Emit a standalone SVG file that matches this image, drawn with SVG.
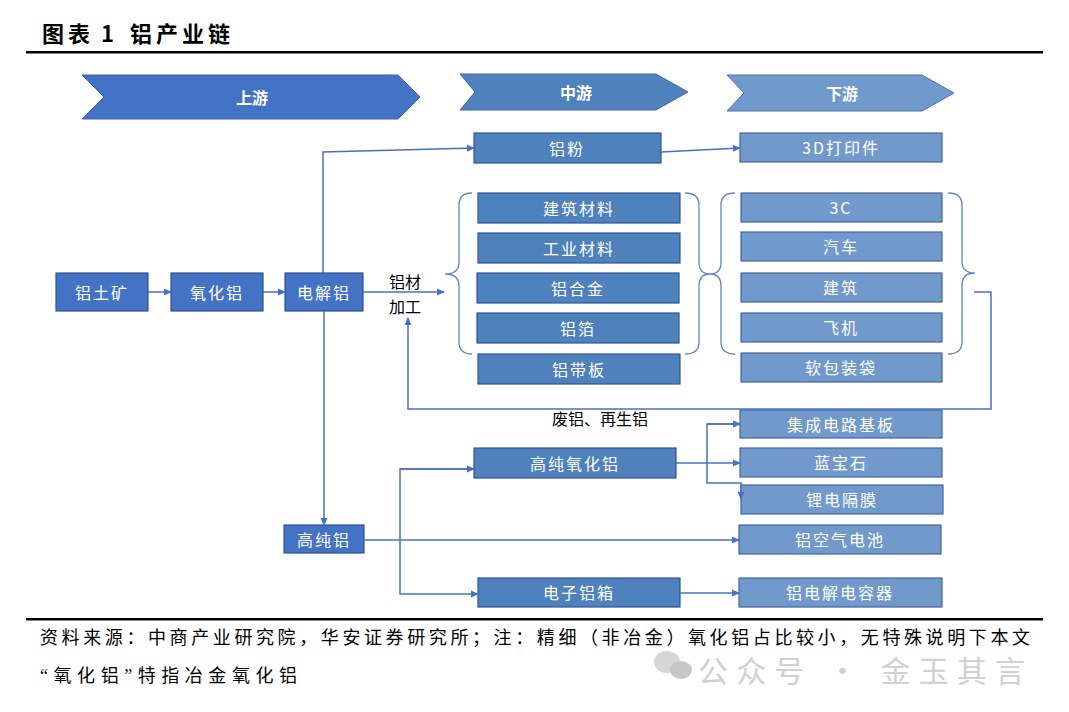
<svg xmlns="http://www.w3.org/2000/svg" width="1069" height="712" viewBox="0 0 1069 712">
<defs>
<marker id="ah" markerWidth="8" markerHeight="8" refX="7" refY="4" orient="auto" markerUnits="userSpaceOnUse">
<path d="M0,0.5 L8,4 L0,7.5 Z" fill="#4472C4"/>
</marker>
</defs>
<style>
.title{font-family:"Noto Sans CJK SC","Liberation Sans",sans-serif;font-weight:bold;font-size:22px;fill:#000}
.up{fill:#4472C4;stroke:#2F528F;stroke-width:1.2}
.mid{fill:#4F81BD;stroke:#2F5597;stroke-width:1.2}
.down{fill:#7199CC;stroke:#41679E;stroke-width:1.2}
.chev1{fill:#4472C4;stroke:#3A64AE;stroke-width:1}
.chev2{fill:#4F81BD;stroke:#3D6BA5;stroke-width:1}
.chev3{fill:#7099CC;stroke:#4A72A8;stroke-width:1}
.nt{font-family:"Noto Sans CJK SC","Liberation Sans",sans-serif;font-size:16px;fill:#fff;text-anchor:middle;dominant-baseline:central;letter-spacing:2px}
.ct{font-family:"Noto Sans CJK SC","Liberation Sans",sans-serif;font-size:16px;font-weight:bold;fill:#fff;text-anchor:middle;dominant-baseline:central}
.lbl{font-family:"Noto Sans CJK SC","Liberation Sans",sans-serif;font-size:16px;fill:#000;text-anchor:middle;dominant-baseline:central}
.cn{fill:none;stroke:#4472C4;stroke-width:1.5}
.br{fill:none;stroke:#5B86C8;stroke-width:1.3}
.foot{font-family:"Liberation Serif","Noto Sans CJK SC",serif;font-size:18px;fill:#000}
.wm{font-family:"Noto Sans CJK SC","Liberation Sans",sans-serif;font-size:30px;fill:#c8c8c8}
</style>
<rect x="0" y="0" width="1069" height="712" fill="#fff"/>
<text class="title" x="42" y="42"><tspan x="42" textLength="48" lengthAdjust="spacing">图表</tspan><tspan x="101">1</tspan><tspan x="130" textLength="100" lengthAdjust="spacing">铝产业链</tspan></text>
<rect x="26" y="51" width="1017" height="2.5" fill="#000"/>

<g id="chevron-up"><polygon class="chev1" points="82,75 398,75 420,97 398,119 82,119 104,97"/><text class="ct" x="252" y="97">上游</text></g>
<g id="chevron-mid"><polygon class="chev2" points="460,74 656,74 688,92 656,110 460,110 475,92"/><text class="ct" x="576" y="92">中游</text></g>
<g id="chevron-down"><polygon class="chev3" points="727,75 922,75 954,93 922,111 727,111 744,93"/><text class="ct" x="842" y="93">下游</text></g>

<g id="n-bauxite"><rect class="up" x="56" y="273" width="92" height="38"/><text class="nt" x="102" y="292">铝土矿</text></g>
<g id="n-alumina"><rect class="up" x="171" y="273" width="92" height="38"/><text class="nt" x="217" y="292">氧化铝</text></g>
<g id="n-electro"><rect class="up" x="285" y="273" width="78" height="38"/><text class="nt" x="324" y="292">电解铝</text></g>
<g id="n-hpal"><rect class="up" x="284" y="525" width="80" height="28"/><text class="nt" x="324" y="539">高纯铝</text></g>

<g id="n-powder"><rect class="mid" x="474" y="133" width="187" height="30"/><text class="nt" x="567" y="148">铝粉</text></g>
<g id="n-build-mat"><rect class="mid" x="478" y="193" width="202" height="30"/><text class="nt" x="579" y="208">建筑材料</text></g>
<g id="n-ind-mat"><rect class="mid" x="478" y="233" width="202" height="30"/><text class="nt" x="579" y="248">工业材料</text></g>
<g id="n-alloy"><rect class="mid" x="477" y="273" width="202" height="30"/><text class="nt" x="578" y="288">铝合金</text></g>
<g id="n-foil"><rect class="mid" x="477" y="313" width="202" height="30"/><text class="nt" x="578" y="328">铝箔</text></g>
<g id="n-strip"><rect class="mid" x="478" y="354" width="202" height="30"/><text class="nt" x="579" y="369">铝带板</text></g>
<g id="n-hpa"><rect class="mid" x="474" y="448" width="202" height="30"/><text class="nt" x="575" y="463">高纯氧化铝</text></g>
<g id="n-efoil"><rect class="mid" x="478" y="578" width="202" height="29"/><text class="nt" x="579" y="592">电子铝箱</text></g>

<g id="n-3d"><rect class="down" x="740" y="133" width="202" height="29"/><text class="nt" x="841" y="147">3D打印件</text></g>
<g id="n-3c"><rect class="down" x="741" y="193" width="201" height="29"/><text class="nt" x="841" y="207">3C</text></g>
<g id="n-car"><rect class="down" x="741" y="232" width="201" height="29"/><text class="nt" x="841" y="246">汽车</text></g>
<g id="n-building"><rect class="down" x="741" y="273" width="201" height="29"/><text class="nt" x="841" y="287">建筑</text></g>
<g id="n-plane"><rect class="down" x="741" y="313" width="201" height="29"/><text class="nt" x="841" y="327">飞机</text></g>
<g id="n-pack"><rect class="down" x="741" y="353" width="201" height="29"/><text class="nt" x="841" y="367">软包装袋</text></g>
<g id="n-ic"><rect class="down" x="740" y="410" width="202" height="28"/><text class="nt" x="841" y="424">集成电路基板</text></g>
<g id="n-sapphire"><rect class="down" x="740" y="448" width="202" height="29"/><text class="nt" x="841" y="462">蓝宝石</text></g>
<g id="n-separator"><rect class="down" x="741" y="485" width="202" height="29"/><text class="nt" x="842" y="499">锂电隔膜</text></g>
<g id="n-airbat"><rect class="down" x="739" y="525" width="202" height="29"/><text class="nt" x="840" y="539">铝空气电池</text></g>
<g id="n-cap"><rect class="down" x="739" y="578" width="203" height="29"/><text class="nt" x="840" y="592">铝电解电容器</text></g>

<g id="labels">
<text class="lbl" x="405" y="281">铝材</text>
<text class="lbl" x="405" y="306">加工</text>
<text class="lbl" x="600" y="418">废铝、再生铝</text>
</g>

<g id="braces">
<path class="br" d="M472,193 Q459,193 459,205 L459,262 Q459,274 445,274 Q459,274 459,286 L459,342 Q459,354 472,354"/>
<path class="br" d="M685,193 Q699,193 699,205 L699,262 Q699,274 710,274 Q699,274 699,286 L699,342 Q699,354 685,354"/>
<path class="br" d="M735,193 Q721,193 721,205 L721,262 Q721,274 710,274 Q721,274 721,286 L721,342 Q721,354 735,354"/>
<path class="br" d="M948,193 Q962,193 962,205 L962,261 Q962,273 975,273 Q962,273 962,285 L962,342 Q962,354 948,354"/>
</g>

<g id="connectors">
<line class="cn" x1="148" y1="292" x2="171" y2="292" marker-end="url(#ah)"/>
<line class="cn" x1="263" y1="292" x2="285" y2="292" marker-end="url(#ah)"/>
<line class="cn" x1="363" y1="292" x2="444" y2="292" marker-end="url(#ah)"/>
<polyline class="cn" points="323,273 323,152 474,148" marker-end="url(#ah)"/>
<line class="cn" x1="324" y1="311" x2="324" y2="525" marker-end="url(#ah)"/>
<line class="cn" x1="661" y1="152" x2="740" y2="148" marker-end="url(#ah)"/>
<polyline class="cn" points="974,292 991,292 991,409 408,409 408,318" marker-end="url(#ah)"/>
<line class="cn" x1="364" y1="540" x2="739" y2="540" marker-end="url(#ah)"/>
<polyline class="cn" points="474,469 400,469 400,594 478,594" marker-end="url(#ah)"/>
<line class="cn" x1="400" y1="469" x2="474" y2="469" marker-end="url(#ah)"/>
<line class="cn" x1="676" y1="463" x2="740" y2="463" marker-end="url(#ah)"/>
<polyline class="cn" points="740,424 707,424 707,483 741,483 741,499" marker-end="url(#ah)"/>
<line class="cn" x1="707" y1="424" x2="740" y2="424" marker-end="url(#ah)"/>
<line class="cn" x1="680" y1="593" x2="739" y2="593" marker-end="url(#ah)"/>
</g>

<rect x="26" y="618" width="1017" height="2.5" fill="#000"/>
<text class="foot" x="40" y="644" textLength="990" lengthAdjust="spacing">资料来源：中商产业研究院，华安证券研究所；注：精细（非冶金）氧化铝占比较小，无特殊说明下本文</text>
<text class="foot" x="40" y="682" textLength="257" lengthAdjust="spacing">“氧化铝”特指冶金氧化铝</text>

<g id="watermark" opacity="0.85">
<ellipse cx="667" cy="662" rx="13" ry="11" fill="#cfcfcf"/>
<ellipse cx="681" cy="670" rx="11" ry="9" fill="#bdbdbd"/>
<text class="wm" x="698" y="682" textLength="327" lengthAdjust="spacing">公众号 · 金玉其言</text>
</g>
</svg>
